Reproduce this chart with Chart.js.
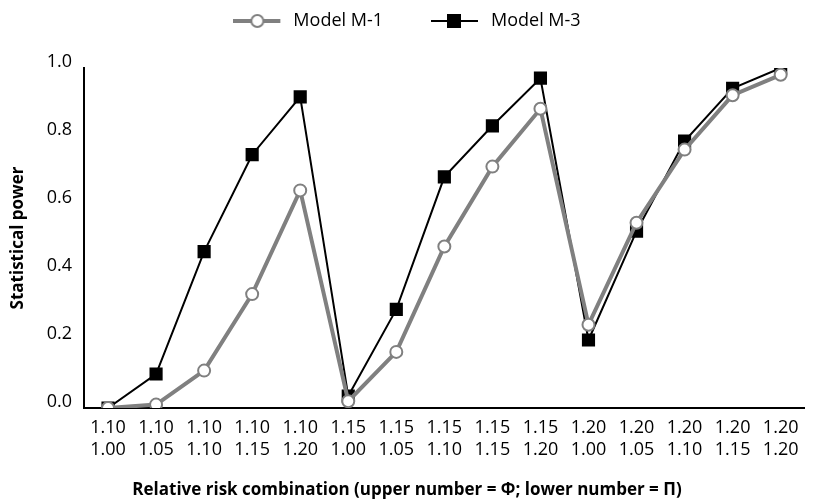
<!DOCTYPE html>
<html><head><meta charset="utf-8">
<script src="https://cdn.jsdelivr.net/npm/chart.js@4/dist/chart.umd.min.js"></script>
<style>html,body{margin:0;padding:0;background:#fff}#wrap{width:814px;height:502px}</style>
</head><body><div id="wrap"><canvas id="c" width="814" height="502"></canvas></div>
<script>
const phi = ["1.10","1.10","1.10","1.10","1.10","1.15","1.15","1.15","1.15","1.15","1.20","1.20","1.20","1.20","1.20"];
const piVals = ["1.00","1.05","1.10","1.15","1.20","1.00","1.05","1.10","1.15","1.20","1.00","1.05","1.10","1.15","1.20"];
const modelM1 = [0.00, 0.01, 0.11, 0.335, 0.64, 0.02, 0.165, 0.475, 0.71, 0.88, 0.245, 0.545, 0.76, 0.92, 0.98];
const modelM3 = [0.00, 0.10, 0.46, 0.745, 0.915, 0.035, 0.29, 0.68, 0.83, 0.97, 0.20, 0.52, 0.785, 0.94, 1.00];
const seriesNames = ["Model M-1", "Model M-3"];
const yTicks = [0.0, 0.2, 0.4, 0.6, 0.8, 1.0];
const xTitle = "Relative risk combination (upper number = \u03A6; lower number = \u03A0)";
const yTitle = "Statistical power";

const FONT = "'Open Sans'";
function legendIcon(kind){
  const cv = document.createElement('canvas');
  cv.width = 51; cv.height = 16;
  const g = cv.getContext('2d');
  g.lineWidth = kind === 'circle' ? 4 : 2;
  g.strokeStyle = kind === 'circle' ? '#808080' : '#000';
  g.beginPath(); g.moveTo(0,8); g.lineTo(47,8); g.stroke();
  if (kind === 'circle'){
    g.fillStyle='#fff'; g.lineWidth=2; g.strokeStyle='#808080';
    g.beginPath(); g.arc(24,8,6,0,Math.PI*2); g.fill(); g.stroke();
  } else {
    g.fillStyle='#000'; g.fillRect(16,1,14,14);
  }
  return cv;
}
const icons = [legendIcon('circle'), legendIcon('rect')];

const LEG_SHIFT = 36;
const legendFix = {
  id:'legendFix',
  beforeLayout(chart){
    const lg = chart.legend;
    if (lg && !lg._patched){
      const orig = lg.fit.bind(lg);
      lg.fit = function(){ orig(); this.height = 68 + LEG_SHIFT; };
      lg._patched = true;
    }
  }
};

new Chart(document.getElementById('c'), {
  type: 'line',
  data: {
    labels: phi.map((p,i)=>[p, piVals[i]]),
    datasets: [
      { label: seriesNames[0], data: modelM1, borderColor:'#808080', borderWidth:4,
        pointStyle:'circle', pointRadius:6, pointBorderWidth:2, pointBorderColor:'#808080',
        pointBackgroundColor:'#fff', tension:0 },
      { label: seriesNames[1], data: modelM3, borderColor:'#000', borderWidth:2,
        pointStyle:'rect', pointRadius:9.3, pointBorderWidth:0, pointBackgroundColor:'#000',
        pointBorderColor:'#000', tension:0 }
    ]
  },
  plugins:[legendFix],
  options: {
    responsive:false, animation:false,
    layout:{ padding:{ left:0, right:0, top:-LEG_SHIFT, bottom:0 } },
    plugins:{
      tooltip:{enabled:false},
      title:{display:true, position:'bottom', text:xTitle, color:'#000',
        font:{family:FONT, size:17, weight:'bold', lineHeight:1.2}, padding:{top:0, bottom:2}},
      legend:{
        position:'top',
        labels:{
          usePointStyle:true, pointStyleWidth:51, padding:48,
          color:'#000', font:{family:FONT, size:18},
          generateLabels:(chart)=>chart.data.datasets.map((d,i)=>({
            text:d.label, pointStyle:icons[i], fillStyle:'#fff', strokeStyle:'#fff',
            lineWidth:0, hidden:false, datasetIndex:i, fontColor:'#000'
          }))
        }
      }
    },
    scales:{
      x:{
        offset:true,
        afterFit:(ax)=>{ ax.height = 94 - 22.4; },
        grid:{display:false, drawTicks:false},
        border:{display:true, color:'#000', width:2},
        ticks:{color:'#000', font:{family:FONT, size:18, lineHeight:1.2}, maxRotation:0, autoSkip:false, padding:9}
      },
      y:{
        min:0, max:1,
        afterFit:(ax)=>{ ax.width = 84; },
        afterBuildTicks:(ax)=>{ ax.ticks = yTicks.map(v=>({value:v})); },
        grid:{display:false, drawTicks:false},
        border:{display:true, color:'#000', width:2},
        ticks:{color:'#000', font:{family:FONT, size:18}, padding:12, labelOffset:-6, callback:(v)=>Number(v).toFixed(1)},
        title:{display:true, text:yTitle, color:'#000',
          font:{family:FONT, size:17, weight:'bold'}, padding:{top:8,bottom:0}}
      }
    }
  }
});
</script></body></html>
